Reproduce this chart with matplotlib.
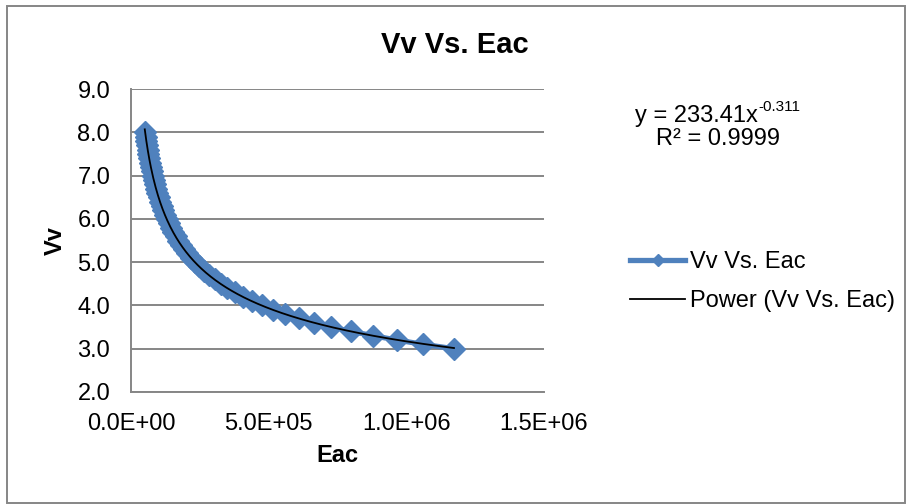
import matplotlib
matplotlib.use("Agg")
import matplotlib.pyplot as plt
import numpy as np
from matplotlib.patches import Rectangle
from matplotlib.ticker import StrMethodFormatter, MultipleLocator

plt.rcParams['font.family'] = ['Liberation Sans', 'DejaVu Sans']

# data
vv = [8.0, 7.9, 7.8, 7.7, 7.6, 7.5, 7.4, 7.3, 7.2, 7.1,
      7.0, 6.9, 6.8, 6.7, 6.6, 6.5, 6.4, 6.3, 6.2, 6.1,
      6.0, 5.9, 5.8, 5.7, 5.6, 5.5, 5.4, 5.3, 5.2, 5.1,
      5.0, 4.9, 4.8, 4.7, 4.6, 4.5, 4.4, 4.3, 4.2, 4.1,
      4.0, 3.9, 3.8, 3.7, 3.6, 3.5, 3.4, 3.3, 3.2, 3.1, 3.0]
eac = [50000, 53000, 55500, 58000, 60500, 63000, 66000, 69000, 72000, 75500,
       79000, 82500, 86500, 91000, 95000, 100000, 105000, 111000, 116500, 123000,
       129500, 137000, 144500, 153000, 162000, 171000, 182000, 193000, 205000, 218000,
       233000, 248000, 265000, 284000, 304000, 326000, 350000, 377000, 406000, 439000,
       475000, 515000, 559000, 609000, 664000, 727000, 800000, 879000, 966000, 1062000, 1173000]

series_name = 'Vv Vs. Eac'
trend_name = 'Power (Vv Vs. Eac)'
eq_base = 'y = 233.41x'
eq_sup = '-0.311'
r2_text = 'R² = 0.9999'

blue = '#4F81BD'
gray = '#868686'

fig = plt.figure(figsize=(9.12, 5.04), dpi=100)
ax = fig.add_axes([131/912, 1-392/504, 413/912, 303/504])

ax.plot(eac, vv, color=blue, lw=3.8, marker='D', ms=11, mfc=blue, mec=blue,
        mew=1, label=series_name, zorder=3)

# power trendline fitted in log space
b, a = np.polyfit(np.log(eac), np.log(vv), 1)
xs = np.linspace(min(eac), max(eac), 400)
ax.plot(xs, np.exp(a) * xs ** b, color='black', lw=1.3, label=trend_name, zorder=4)

ax.set_xlim(0, 1.5e6)
ax.set_ylim(2, 9)
ax.xaxis.set_major_locator(MultipleLocator(5e5))
ax.yaxis.set_major_locator(MultipleLocator(1))
ax.xaxis.set_major_formatter(StrMethodFormatter('{x:.1E}'))
ax.yaxis.set_major_formatter(StrMethodFormatter('{x:.1f}'))
ax.tick_params(length=0, pad=15, labelsize=17)
ax.grid(axis='y', color=gray, lw=1.4)
ax.set_axisbelow(True)
for s in ['top', 'right']:
    ax.spines[s].set_visible(False)
for s in ['left', 'bottom']:
    ax.spines[s].set_color(gray)
    ax.spines[s].set_linewidth(1.4)

ax.set_xlabel('Eac', fontsize=17, fontweight='bold')
ax.set_ylabel('Vv', fontsize=17, fontweight='bold')
ax.xaxis.set_label_coords(0.5, (392-456)/303)
ax.yaxis.set_label_coords((55-131)/413, 0.5)
ax.xaxis.label.set_va('center')
ax.yaxis.label.set_va('center')

fig.text(455/912, 1-45/504, 'Vv Vs. Eac', ha='center', va='center',
         fontsize=21, fontweight='bold')

# trendline equation, superscript placed after the base text
t = fig.text(635/912, 1-122/504, eq_base, ha='left', va='baseline', fontsize=17)
fig.canvas.draw()
bb = t.get_window_extent()
fig.text(bb.x1/912 + 1/912, 1-111/504, eq_sup, ha='left', va='baseline', fontsize=11)
fig.text(718/912, 1-145/504, r2_text, ha='center', va='baseline', fontsize=17)

fig.legend(loc='center left', bbox_to_anchor=(630/912, 1-281.5/504),
           frameon=False, fontsize=17, handlelength=2.33, handletextpad=0.2,
           labelspacing=0.7, borderpad=0, borderaxespad=0, numpoints=1,
           markerscale=0.55)

fig.patches.append(Rectangle((7/912, 1/504), 898/912, 497.5/504,
                             transform=fig.transFigure, fill=False,
                             edgecolor=gray, lw=1.4))

fig.savefig('out.png', dpi=100)
